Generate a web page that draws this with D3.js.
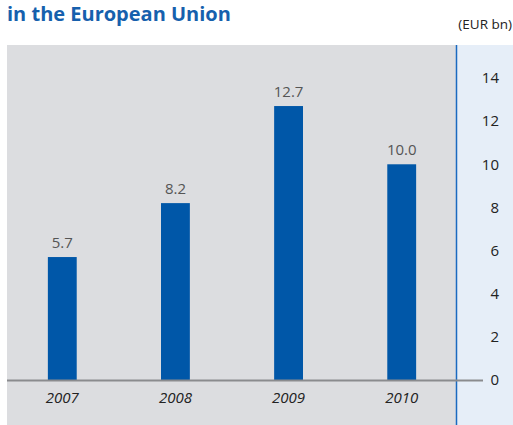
<!DOCTYPE html>
<html lang="en">
<head>
<meta charset="UTF-8">
<title>EU chart</title>
<script src="https://cdnjs.cloudflare.com/ajax/libs/d3/7.8.5/d3.min.js"></script>
<style>
  body { margin: 0; background: #fff; }
  text { font-family: "Open Sans", "Noto Sans", sans-serif; }
</style>
</head>
<body>
<svg width="513" height="425"></svg>
<script>
"use strict";

const years = ["2007", "2008", "2009", "2010"];
const values = [5.7, 8.2, 12.7, 10.0];
const ticks = [0, 2, 4, 6, 8, 10, 12, 14];

const svg = d3.select("svg");

// panels
svg.append("rect").attr("x", 7).attr("y", 45).attr("width", 449).attr("height", 380).attr("fill", "#dcdde0");
svg.append("rect").attr("x", 457).attr("y", 45).attr("width", 56).attr("height", 380).attr("fill", "#e6eef8");
svg.append("line").attr("x1", 456.5).attr("x2", 456.5).attr("y1", 45).attr("y2", 425)
    .attr("stroke", "#1a6ac0").attr("stroke-width", 1.5);

// title
svg.append("text").attr("x", 7).attr("y", 21)
    .attr("font-size", 20).attr("font-weight", "bold").attr("fill", "#1660ad")
    .text("in the European Union");
svg.append("text").attr("x", 512).attr("y", 29).attr("text-anchor", "end")
    .attr("font-size", 13.5).attr("fill", "#222").text("(EUR bn)");

const x = d3.scaleBand().domain(years).range([6, 458]).paddingInner(0.745).paddingOuter(0.37);
const y = d3.scaleLinear().domain([0, 14]).range([380, 78]);

// axis ticks on right
const axis = svg.append("g").attr("transform", "translate(499,0)")
    .call(d3.axisRight(y).tickValues(ticks).tickSize(0).tickPadding(0).tickFormat(d3.format("d")));
axis.select(".domain").remove();
axis.selectAll("text").attr("text-anchor", "end").attr("font-size", 15).attr("fill", "#222")
    .attr("font-family", "\"Open Sans\", sans-serif");

// bars
svg.append("g").selectAll("rect").data(values).join("rect")
    .attr("x", (d, i) => x(years[i]))
    .attr("width", x.bandwidth())
    .attr("y", d => y(d))
    .attr("height", d => y(0) - y(d))
    .attr("fill", "#0057a8");

// value labels
svg.append("g").selectAll("text").data(values).join("text")
    .attr("x", (d, i) => x(years[i]) + x.bandwidth() / 2)
    .attr("y", d => y(d) - 9)
    .attr("text-anchor", "middle").attr("font-size", 15).attr("fill", "#555")
    .text(d => d.toFixed(1));

// baseline
svg.append("line").attr("x1", 7).attr("x2", 483).attr("y1", y(0) + 0.5).attr("y2", y(0) + 0.5)
    .attr("stroke", "#8a8b8e").attr("stroke-width", 2);

// year labels
svg.append("g").selectAll("text").data(years).join("text")
    .attr("x", d => x(d) + x.bandwidth() / 2)
    .attr("y", 403)
    .attr("text-anchor", "middle").attr("font-size", 15).attr("font-style", "italic").attr("fill", "#222")
    .text(d => d);
</script>
</body>
</html>
